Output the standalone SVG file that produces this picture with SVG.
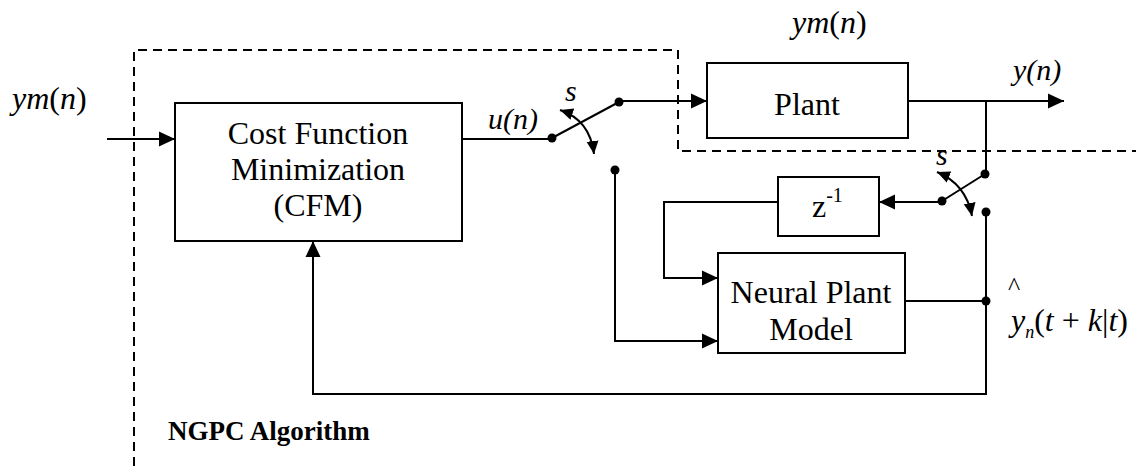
<svg xmlns="http://www.w3.org/2000/svg" width="1136" height="466" viewBox="0 0 1136 466" font-family="Liberation Serif, Times New Roman, DejaVu Serif, serif">
<style>
.box{fill:#fff;stroke:#000;stroke-width:2}
.ln{fill:none;stroke:#000;stroke-width:2}
.dash{fill:none;stroke:#000;stroke-width:2;stroke-dasharray:9,6}
.it{font-style:italic}
.dot{fill:#000}
</style>
<defs>
<marker id="arr" markerWidth="18" markerHeight="18" refX="16" refY="8" orient="auto" markerUnits="userSpaceOnUse">
<path d="M0,0.5 L16,8 L0,15.5 Z" fill="#000"/>
</marker>
<marker id="sarr" markerWidth="14" markerHeight="14" refX="13" refY="7" orient="auto-start-reverse" markerUnits="userSpaceOnUse">
<path d="M0,1 L13,7 L0,13 Z" fill="#000"/>
</marker>
</defs>
<rect width="1136" height="466" fill="#fff"/>
<g id="boundary">
<path class="dash" d="M134,466 V50 H678 V151 H1136"/>
</g>
<g id="connectors">
<path class="ln" d="M107,139 H175" marker-end="url(#arr)"/>
<path class="ln" d="M462,139 H552"/>
<path class="ln" d="M552,138 L619,102"/>
<path class="ln" d="M619,101 H707" marker-end="url(#arr)"/>
<path class="ln" d="M908,101 H1064" marker-end="url(#arr)"/>
<path class="ln" d="M986,101 V174"/>
<path class="ln" d="M985,174 L942,201"/>
<path class="ln" d="M942,202 H879" marker-end="url(#arr)"/>
<path class="ln" d="M778,202 H664 V278 H718" marker-end="url(#arr)"/>
<path class="ln" d="M615,170 V341 H718" marker-end="url(#arr)"/>
<path class="ln" d="M905,301 H986"/>
<path class="ln" d="M986,212 V394 H313 V241" marker-end="url(#arr)"/>
<path class="ln" d="M560,110 Q590,120 594,154" marker-start="url(#sarr)" marker-end="url(#sarr)"/>
<path class="ln" d="M937,172 Q966,184 972,216" marker-start="url(#sarr)" marker-end="url(#sarr)"/>
<circle class="dot" cx="552" cy="138" r="4.5"/>
<circle class="dot" cx="619" cy="102" r="4.5"/>
<circle class="dot" cx="615" cy="170" r="4.5"/>
<circle class="dot" cx="985" cy="174" r="4.5"/>
<circle class="dot" cx="942" cy="201" r="4.5"/>
<circle class="dot" cx="986" cy="212" r="4.5"/>
<circle class="dot" cx="986" cy="301" r="4.5"/>
</g>
<g id="cfm">
<rect class="box" x="175" y="103" width="287" height="138"/>
<text font-size="32" text-anchor="middle" x="318" y="144">Cost Function</text>
<text font-size="32" text-anchor="middle" x="318" y="180">Minimization</text>
<text font-size="32" text-anchor="middle" x="318" y="216">(CFM)</text>
</g>
<g id="plant">
<rect class="box" x="707" y="63" width="201" height="75"/>
<text font-size="32" text-anchor="middle" x="807" y="115">Plant</text>
</g>
<g id="delay">
<rect class="box" x="778" y="177" width="101" height="59"/>
<text font-size="32" x="812" y="217">z<tspan font-size="20" dy="-15">-1</tspan></text>
</g>
<g id="neural">
<rect class="box" x="718" y="253" width="187" height="100"/>
<text font-size="32" text-anchor="middle" x="811" y="303">Neural Plant</text>
<text font-size="32" text-anchor="middle" x="811" y="340">Model</text>
</g>
<g id="labels">
<text font-size="32" x="12" y="109"><tspan class="it">ym</tspan>(<tspan class="it">n</tspan>)</text>
<text font-size="32" x="792" y="33"><tspan class="it">ym</tspan>(<tspan class="it">n</tspan>)</text>
<text class="it" font-size="30" x="488" y="129">u(n)</text>
<text class="it" font-size="30" x="1013" y="80">y(n)</text>
<text class="it" font-size="30" x="565" y="101">s</text>
<text class="it" font-size="30" x="936" y="165">s</text>
<text font-size="26" x="1008" y="295">^</text>
<text font-size="32" x="1011" y="331"><tspan class="it">y</tspan><tspan class="it" font-size="18" dy="7">n</tspan><tspan dy="-7">(</tspan><tspan class="it">t</tspan> + <tspan class="it">k</tspan>|<tspan class="it">t</tspan>)</text>
<text font-size="27" font-weight="bold" x="168" y="440">NGPC Algorithm</text>
</g>
</svg>
